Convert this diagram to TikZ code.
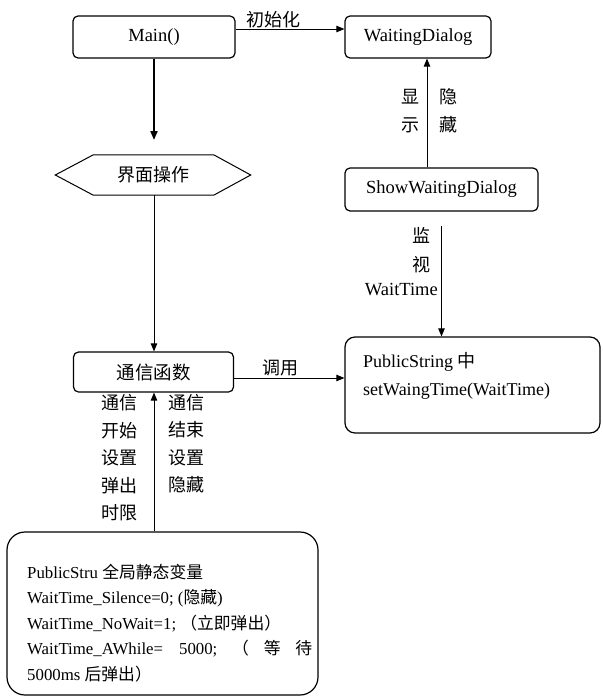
\documentclass[tikz,border=0pt]{standalone}
\usepackage{fontspec}
\setmainfont{Liberation Serif}
\newfontfamily\cjk{Noto Sans CJK SC}
\usetikzlibrary{arrows.meta}
\begin{document}
\begin{tikzpicture}[x=1pt,y=-1pt,
  font=\fontsize{18.5}{20}\selectfont,
  box/.style={draw, line width=1.2pt, rounded corners=5pt, inner sep=0pt},
  lbl/.style={inner sep=0pt, font=\cjk\fontsize{18}{20}\selectfont},
  arr/.style={-{Triangle[length=8pt,width=6.5pt]}, line width=0.9pt}]
\useasboundingbox (0,0) rectangle (602,698);
% boxes
\node[box, minimum width=162pt, minimum height=42pt] (main) at (154,37) {Main()};
\node[box, minimum width=146pt, minimum height=42pt] (wd) at (418,37) {WaitingDialog};
\node[minimum width=195pt, minimum height=40pt, inner sep=0pt, font=\cjk\fontsize{18}{20}\selectfont] (hex) at (153,175) {界面操作};
\draw[line width=1pt] (hex.west) -- ([xshift=38pt]hex.north west) -- ([xshift=-37pt]hex.north east)
  -- (hex.east) -- ([xshift=-37pt]hex.south east) -- ([xshift=38pt]hex.south west) -- cycle;
\node[box, minimum width=160pt, minimum height=40pt, font=\cjk\fontsize{18.5}{20}\selectfont] (comm) at (153.5,372) {通信函数};
\node[box, minimum width=193pt, minimum height=43pt] (swd) at (441.5,189.5) {ShowWaitingDialog};
\node[box, rounded corners=10pt, minimum width=255pt, minimum height=96pt] (ps) at (472.5,385) {};
\node[anchor=west, align=left, inner sep=0pt, font=\fontsize{18}{28}\selectfont] (pstext) at (363,376)
  {PublicString {\cjk 中}\\setWaingTime(WaitTime)};
\node[box, rounded corners=18pt, minimum width=311pt, minimum height=163pt] (pub) at (162.5,613.5) {};
\node[anchor=west, align=left, inner sep=0pt, font=\fontsize{16.8}{25.5}\selectfont] (pubtext) at (27,623)
  {PublicStru {\cjk 全局静态变量}\\
   WaitTime\_Silence=0; ({\cjk 隐藏})\\
   WaitTime\_NoWait=1; {\cjk （立即弹出）}\\
   \hbox to 285pt{WaitTime\_AWhile=\hspace{16pt}5000;\hfill{\cjk （}\hfill{\cjk 等}\hfill{\cjk 待}}\\
   5000ms {\cjk 后弹出）}};
% connectors
\coordinate (hexin) at (154,140);
\coordinate (ax) at (427,0);
\draw[arr] ([yshift=8pt]main.east) -- ([yshift=8pt]main.east -| wd.west);
\draw[-{Triangle[length=9pt,width=7pt]}, line width=2pt] (main.south -| hexin) -- (hexin);
\draw[arr] (hex.south -| hexin) -- (comm.north -| hexin);
\draw[arr] ([yshift=-6pt]comm.east) -- ([yshift=-6pt]comm.east -| ps.west);
\draw[arr] (swd.north -| ax) -- (wd.south -| ax);
\draw[arr] ([yshift=-14pt]swd.south) -- (ps.north -| swd.south);
\draw[arr] (pub.north -| hexin) -- (comm.south -| hexin);
% labels
\node[lbl, anchor=south] (linit) at (273,28) {初始化};
\node[lbl] (lcall) at (280,368) {调用};
\node[lbl] (lshow1) at (410,97) {显};
\node[lbl] (lshow2) at (410,125) {示};
\node[lbl] (lhide1) at (448,97) {隐};
\node[lbl] (lhide2) at (448,125) {藏};
\node[lbl] (lmon1) at (421,235) {监};
\node[lbl] (lmon2) at (421,265) {视};
\node[inner sep=0pt, anchor=east, font=\fontsize{18.5}{20}\selectfont] (lwt) at (438,290) {WaitTime};
\node[lbl, anchor=east, align=right, font=\cjk\fontsize{18}{27.5}\selectfont] (lstart) at (138,458)
  {通信\\开始\\设置\\弹出\\时限};
\node[lbl, anchor=north west, align=left, font=\cjk\fontsize{18}{27.5}\selectfont] (lend) at (168,394)
  {通信\\结束\\设置\\隐藏};
\end{tikzpicture}
\end{document}
